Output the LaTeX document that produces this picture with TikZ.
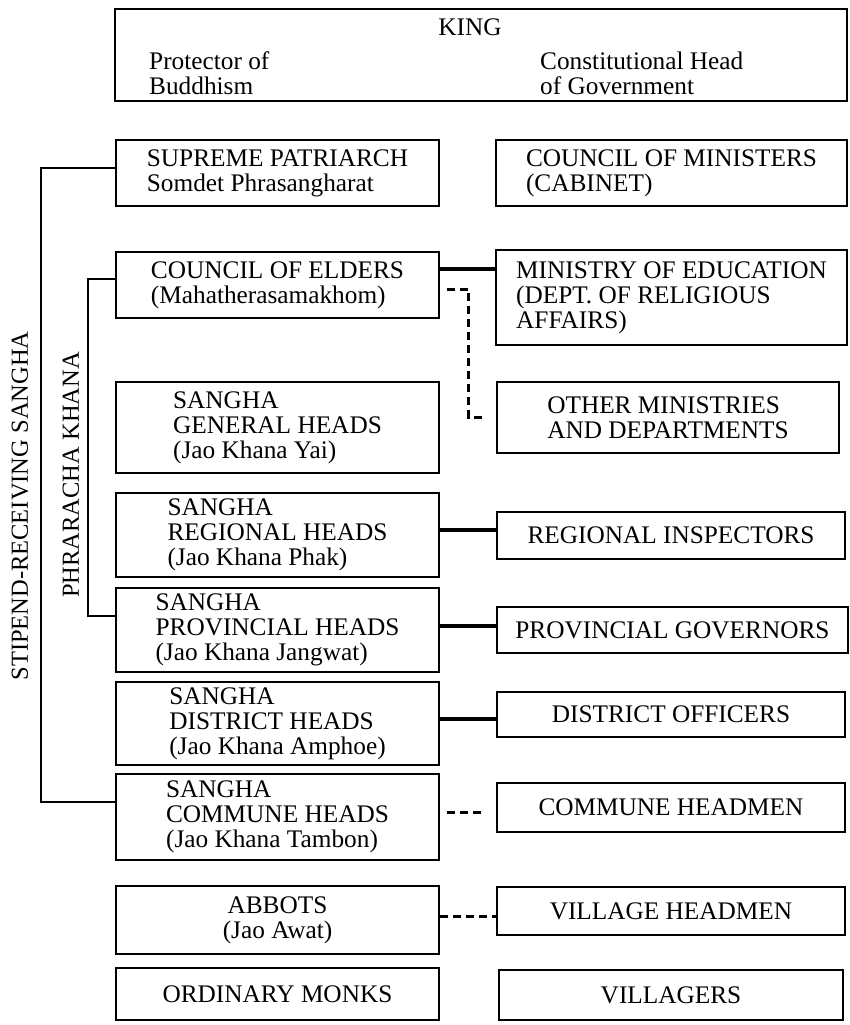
\documentclass[tikz,border=0pt]{standalone}
\usepackage{fontspec}
\setmainfont{Liberation Serif}
\begin{document}
\begin{tikzpicture}[x=1pt,y=-1pt,font=\fontsize{25.3}{25}\selectfont,
  box/.style={draw,line width=1.8pt,inner sep=0pt,align=left,minimum width=323pt},
  rbox/.style={box,minimum width=348pt},
  txt/.style={inner sep=0pt,align=left},
  side/.style={txt,rotate=90,font=\fontsize{24.5}{25}\selectfont},
  link/.style={line width=1.8pt},
  tie/.style={line width=4pt},
  loose/.style={line width=3pt,dash pattern=on 8pt off 5pt}]
\useasboundingbox (0,0) rectangle (850,1025);
\node[box,minimum width=732pt,minimum height=92pt] (king) at (481,55) {};
\node[txt] (kingt) at (470,27) {KING};
\node[txt,anchor=west] (prot) at (149,73) {Protector of\\Buddhism};
\node[txt,anchor=west] (gov) at (540,73) {Constitutional Head\\of Government};
\node[box,minimum height=66pt] (supreme) at (277.5,173) {SUPREME PATRIARCH\\Somdet Phrasangharat};
\node[box,minimum height=66pt] (elders) at (277.5,285) {COUNCIL OF ELDERS\\(Mahatherasamakhom)};
\node[box,minimum height=91pt] (general) at (277.5,427.5) {SANGHA\\GENERAL HEADS\\(Jao Khana Yai)};
\node[box,minimum height=84pt] (regional) at (277.5,535) {SANGHA\\REGIONAL HEADS\\(Jao Khana Phak)};
\node[box,minimum height=84pt] (provincial) at (277.5,630) {SANGHA\\PROVINCIAL HEADS\\(Jao Khana Jangwat)};
\node[box,minimum height=83pt] (district) at (277.5,723.5) {SANGHA\\DISTRICT HEADS\\(Jao Khana Amphoe)};
\node[box,minimum height=86pt] (commune) at (277.5,817) {SANGHA\\COMMUNE HEADS\\(Jao Khana Tambon)};
\node[box,minimum height=68pt,align=center] (abbots) at (277.5,920) {ABBOTS\\(Jao Awat)};
\node[box,minimum height=52pt] (monks) at (277.5,994) {ORDINARY MONKS};
\node[rbox,minimum width=351pt,minimum height=66pt] (ministers) at (671.5,173) {COUNCIL OF MINISTERS\\(CABINET)};
\node[rbox,minimum width=351pt,minimum height=95pt] (ministry) at (671.5,297.5) {MINISTRY OF EDUCATION\\(DEPT. OF RELIGIOUS\\AFFAIRS)};
\node[rbox,minimum width=342pt,minimum height=71pt] (others) at (668,417.5) {OTHER MINISTRIES\\AND DEPARTMENTS};
\node[rbox,minimum height=47pt] (inspectors) at (671,535.5) {REGIONAL INSPECTORS};
\node[rbox,minimum width=351pt,minimum height=46pt] (governors) at (672.5,630) {PROVINCIAL GOVERNORS};
\node[rbox,minimum height=45pt] (officers) at (671,714.5) {DISTRICT OFFICERS};
\node[rbox,minimum height=49pt] (headmen) at (671,807.5) {COMMUNE HEADMEN};
\node[rbox,minimum height=48pt] (vheadmen) at (671,911) {VILLAGE HEADMEN};
\node[rbox,minimum width=344pt,minimum height=50pt] (villagers) at (671,995) {VILLAGERS};
\node[side] (stipend) at (20,506) {STIPEND-RECEIVING SANGHA};
\node[side] (khana) at (71,475) {PHRARACHA KHANA};
\draw[link] ([yshift=5pt]supreme.west) -- ++(-74,0) |- ([yshift=15pt]commune.west);
\draw[link] ([yshift=6pt]elders.west) -- ++(-27,0) |- ([yshift=14pt]provincial.west);
\draw[tie] ([yshift=16pt]elders.east) -- ([yshift=16pt]elders.east -| ministry.west);
\draw[tie] ([yshift=5pt]regional.east) -- ([yshift=5pt]regional.east -| inspectors.west);
\draw[tie] ([yshift=4pt]provincial.east) -- ([yshift=4pt]provincial.east -| governors.west);
\draw[tie] ([yshift=5pt]district.east) -- ([yshift=5pt]district.east -| officers.west);
\draw[loose,shorten <=7pt,shorten >=12pt] ([yshift=-4pt]elders.east) -- ++(29,0) |- (others.west);
\draw[loose,shorten <=7pt,shorten >=12pt] ([yshift=5pt]commune.east) -- ([yshift=5pt]commune.east -| headmen.west);
\draw[loose] ([yshift=4pt]abbots.east) -- ([yshift=4pt]abbots.east -| vheadmen.west);
\end{tikzpicture}
\end{document}
